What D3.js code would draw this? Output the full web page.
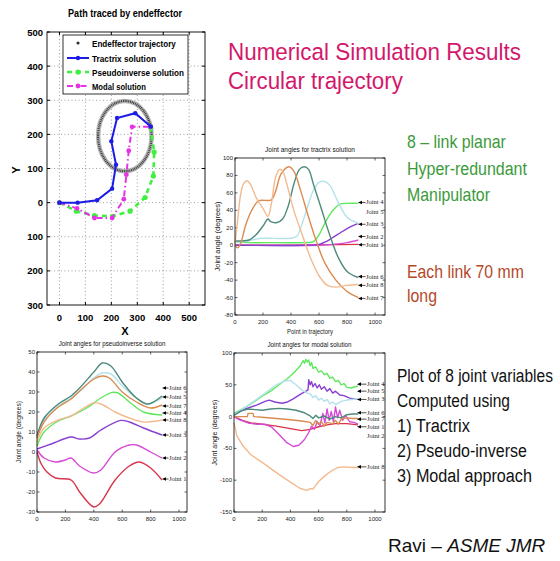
<!DOCTYPE html>
<html><head><meta charset="utf-8">
<script src="https://cdn.jsdelivr.net/npm/d3@7"></script>
<style>body{margin:0;background:#fff} svg{display:block}</style>
</head><body>
<svg width="560" height="561"></svg>
<script>
// ---------------- data: path traced by endeffector
const pathXTicks = [0, 100, 200, 300, 400, 500];
const pathYTicks = [500, 400, 300, 200, 100, 0, -100, -200, -300];
const circleCenter = [252, 195];
const circleRadius = 103;
const tractrixPath = [[0,0],[70,0],[145,7],[203,41],[218,111],[200,180],[222,248],[292,262],[352,223]];
const pseudoPath = [[0,0],[65,-25],[135,-38],[205,-40],[272,-25],[330,15],[362,78],[365,148],[352,220]];
const modalPath = [[0,0],[68,-17],[135,-45],[203,-45],[248,10],[258,82],[267,152],[280,222],[350,222]];
const legendLabels = ["Endeffector trajectory", "Tractrix solution", "Pseudoinverse solution", "Modal solution"];

// ---------------- data: joint angles
const jointNames = ["Joint 1","Joint 2","Joint 3","Joint 4","Joint 5","Joint 6","Joint 7","Joint 8"];
const jointColors = ["#d8344c","#d64ad6","#8a3fd0","#5ee85e","#b3e2ec","#4e8a7c","#da8b50","#f3ba90"];
const pointTicks = [0, 200, 400, 600, 800, 1000];

// tractrix
const trJ1 = [[0,0],[400,0],[880,1]];
const trJ2 = [[0,0],[600,0],[700,1],[800,3],[880,6]];
const trJ3 = [[0,0],[500,0],[600,1],[650,4],[700,9],[750,14],[800,19],[850,23],[880,25]];
const trJ4 = [[0,4],[100,3],[300,3],[500,3],[560,4],[600,12],[650,28],[700,40],[750,47],[800,48],[880,48]];
const trJ5 = [[0,3],[100,5],[150,7],[200,8],[400,8],[440,10],[480,25],[520,45],[560,63],[600,72],[640,73],[680,68],[720,55],[760,42],[800,32],[880,25]];
const trJ6 = [[0,5],[50,5],[100,6],[150,12],[200,22],[235,30],[255,27],[300,26],[340,30],[380,45],[420,70],[460,87],[495,90],[525,87],[560,70],[620,40],[680,10],[740,-15],[800,-30],[880,-37]];
const trJ7 = [[0,0],[20,-3],[40,2],[80,25],[130,43],[170,51],[260,52],[290,62],[330,82],[385,90],[420,85],[470,62],[520,35],[580,5],[640,-20],[720,-40],[800,-53],[880,-60]];
const trJ8 = [[0,2],[20,30],[40,58],[60,70],[85,74],[110,70],[150,55],[200,42],[235,33],[260,48],[290,78],[318,87],[340,85],[370,70],[420,40],[480,12],[540,-15],[600,-35],[660,-46],[720,-48],[800,-46],[880,-45]];
const trLabelY = [0.5, 10, 24, 49, 38, -36, -61, -46];
const trArrow = [1, 1, 1, 1, 0, 1, 1, 1];

// pseudoinverse
const psJ1 = [[0,0],[30,-6],[70,-10],[130,-13],[240,-14],[300,-20],[400,-27.5],[440,-26],[550,-14],[650,-7],[720,-5],[800,-8],[880,-14]];
const psJ2 = [[0,1],[50,-3],[130,-5],[200,-4],[240,-3],[300,-7],[400,-10.5],[450,-9],[550,0],[650,3.5],[700,3.5],[800,0],[880,-3]];
const psJ3 = [[0,1.5],[100,4],[240,7.5],[300,6.5],[370,7],[450,11],[590,15.8],[650,15],[750,12],[880,8.5]];
const psJ4 = [[0,3],[50,10],[150,15.5],[240,18],[350,22],[450,27],[530,29.8],[570,29.5],[650,25],[750,20],[880,18.5]];
const psJ5 = [[0,7],[50,16],[150,23],[240,27],[320,31.5],[400,37],[460,39.5],[520,39],[600,33],[700,27],[780,24],[880,27]];
const psJ6 = [[0,8],[50,17],[150,24],[240,28],[300,32],[400,40],[460,44.5],[520,43],[600,35],[700,27],[780,24],[880,28]];
const psJ7 = [[0,7],[50,15],[150,22.5],[240,26.5],[300,30.5],[400,36.5],[460,38],[510,37],[600,30],[700,25],[800,22],[880,23.5]];
const psJ8 = [[0,5],[50,12],[150,16],[240,18],[330,22],[400,24.5],[450,24],[550,20],[650,17],[750,15],[880,16]];
const psLabelY = [-13.5, -3, 8.5, 19.5, 27.5, 32, 23, 16];
const psArrow = [1, 1, 1, 1, 1, 1, 1, 1];

// modal
const moJ1 = [[0,0],[60,-6],[120,-10],[200,-12],[300,-15],[400,-19],[480,-22],[540,-20],[600,-16],[660,-13],[720,-11],[800,-11],[880,-13]];
const moJ2 = [[0,0],[40,-5],[100,-10],[160,-12],[220,-12],[270,-17],[320,-28],[370,-40],[420,-47],[460,-45],[500,-36],[530,-25],[550,-15],[570,-20],[590,-8],[610,-14],[630,5],[645,-10],[660,12],[675,-6],[690,8],[705,-8],[720,15],[735,-2],[750,10],[770,-6],[790,2],[820,-8],[850,-9],[880,-12]];
const moJ3 = [[0,3],[80,12],[160,18],[220,24],[250,26],[290,23],[340,21],[380,23],[420,28],[470,35],[510,40],[525,42],[530,58],[540,50],[550,55],[560,47],[575,52],[590,45],[605,50],[620,43],[640,47],[660,40],[680,44],[700,37],[720,40],[750,34],[780,33],[820,29],[880,27]];
const moJ4 = [[0,5],[60,12],[120,20],[200,32],[260,40],[320,50],[380,60],[430,70],[470,80],[490,88],[500,84],[510,90],[520,86],[530,89],[540,80],[550,85],[560,76],[580,78],[600,70],[620,72],[640,66],[660,68],[680,60],[700,62],[720,55],[740,57],[760,50],[780,52],[800,46],[830,45],[860,47],[880,48]];
const moJ5 = [[0,3],[80,15],[160,27],[240,40],[300,50],[360,56],[400,57],[440,50],[480,42],[520,37],[540,36],[560,30],[580,33],[600,26],[620,29],[640,24],[660,27],[680,20],[700,23],[720,19],[760,24],[800,26],[880,28]];
const moJ6 = [[0,2],[50,9],[100,12],[150,11],[200,10],[260,12],[320,13],[380,12],[440,10],[500,6],[540,1],[560,-3],[580,2],[600,-2],[640,1],[680,-4],[720,0],[760,-2],[800,3],[840,4],[880,4]];
const moJ7 = [[0,0],[95,0],[100,5],[135,5],[140,0],[200,-1],[300,-3],[400,-5],[480,-7],[540,-9],[560,-14],[580,-6],[600,-12],[620,-8],[640,-15],[660,-9],[700,-11],[720,-6],[740,-12],[760,-4],[800,-2],[840,-3],[880,-3]];
const moJ8 = [[0,-10],[20,-30],[60,-45],[120,-60],[200,-72],[300,-88],[400,-103],[470,-113],[520,-116],[540,-113],[560,-114],[600,-102],[650,-92],[700,-84],[740,-80],[780,-79],[840,-80],[880,-80]];
const moLabelY = [-16, -30, 27, 51, 40, 6, -4, -79];
const moArrow = [1, 0, 1, 1, 1, 1, 1, 1];

// ---------------- drawing
const svg = d3.select("svg");
const sans = "'Liberation Sans', Arial, sans-serif";
const serif = "'Liberation Serif', 'Times New Roman', serif";

// text helper: a wanted width squeezes the glyphs with a horizontal scale
function txt(g, s, x, y, size, opts = {}) {
  const t = g.append("text").attr("x", 0).attr("y", 0)
    .attr("font-family", opts.family || sans).attr("font-size", size)
    .attr("fill", opts.fill || "#000").text(s);
  if (opts.anchor) t.attr("text-anchor", opts.anchor);
  if (opts.weight) t.attr("font-weight", opts.weight);
  if (opts.style) t.attr("font-style", opts.style);
  let sx = 1;
  if (opts.width) sx = opts.width / t.node().getComputedTextLength();
  t.attr("transform", `translate(${x},${y})` + (opts.rotate ? " rotate(-90)" : "") + (sx !== 1 ? ` scale(${sx},1)` : ""));
  return t;
}

// ===== panel 1
(function () {
  const g = svg.append("g");
  const x = d3.scaleLinear().domain([-48, 561]).range([47, 205]);
  const y = d3.scaleLinear().domain([-300, 500]).range([305, 32]);

  // grid
  g.selectAll(".gx").data(pathXTicks).enter().append("line")
    .attr("x1", d => x(d)).attr("x2", d => x(d)).attr("y1", y(500)).attr("y2", y(-300))
    .attr("stroke", "#777").attr("stroke-width", 0.7).attr("stroke-dasharray", "1,2.5");
  g.selectAll(".gy").data(pathYTicks.slice(1, -1)).enter().append("line")
    .attr("y1", d => y(d)).attr("y2", d => y(d)).attr("x1", 47).attr("x2", 205)
    .attr("stroke", "#777").attr("stroke-width", 0.7).attr("stroke-dasharray", "1,2.5");

  // ticks inside
  pathXTicks.forEach(d => {
    g.append("line").attr("x1", x(d)).attr("x2", x(d)).attr("y1", 305).attr("y2", 302).attr("stroke", "#000");
    g.append("line").attr("x1", x(d)).attr("x2", x(d)).attr("y1", 32).attr("y2", 35).attr("stroke", "#000");
    txt(g, d, x(d), 321, 9.5, { anchor: "middle", weight: "bold" });
  });
  pathYTicks.forEach(d => {
    g.append("line").attr("x1", 47).attr("x2", 50).attr("y1", y(d)).attr("y2", y(d)).attr("stroke", "#000");
    g.append("line").attr("x1", 205).attr("x2", 202).attr("y1", y(d)).attr("y2", y(d)).attr("stroke", "#000");
    txt(g, Math.abs(d), 43, y(d) + 3.5, 9.5, { anchor: "end", weight: "bold" });
  });
  g.append("rect").attr("x", 47).attr("y", 32).attr("width", 158).attr("height", 273)
    .attr("fill", "none").attr("stroke", "#000").attr("stroke-width", 0.9);

  txt(g, "Path traced by endeffector", 125, 17, 10, { anchor: "middle", weight: "bold", width: 114 });
  txt(g, "X", 125, 335, 11, { anchor: "middle", weight: "bold" });
  txt(g, "Y", 20, 170, 11, { anchor: "middle", weight: "bold", rotate: true });

  // endeffector trajectory circle
  const cx = x(circleCenter[0]), cy = y(circleCenter[1]);
  const rx = x(circleCenter[0] + circleRadius) - cx, ry = cy - y(circleCenter[1] + circleRadius);
  g.append("ellipse").attr("cx", cx).attr("cy", cy).attr("rx", rx).attr("ry", ry)
    .attr("fill", "none").attr("stroke", "#b5b5b5").attr("stroke-width", 4.5);
  g.append("ellipse").attr("cx", cx).attr("cy", cy).attr("rx", rx).attr("ry", ry)
    .attr("fill", "none").attr("stroke", "#333").attr("stroke-width", 2.2).attr("stroke-dasharray", "0.9,0.9");

  const line = d3.line().x(d => x(d[0])).y(d => y(d[1]));
  const series = [
    { pts: pseudoPath, color: "#3ff03f", w: 2.6, dash: "5,4", r: 2.6 },
    { pts: modalPath, color: "#e433e4", w: 2, dash: "6,3,1.5,3", r: 2.4 },
    { pts: tractrixPath, color: "#1c1ce6", w: 2, dash: null, r: 2.2 }
  ];
  series.forEach(s => {
    const p = g.append("path").attr("d", line(s.pts)).attr("fill", "none")
      .attr("stroke", s.color).attr("stroke-width", s.w);
    if (s.dash) p.attr("stroke-dasharray", s.dash);
    g.selectAll(null).data(s.pts).enter().append("circle")
      .attr("cx", d => x(d[0])).attr("cy", d => y(d[1])).attr("r", s.r).attr("fill", s.color);
  });

  // legend
  const lg = g.append("g");
  lg.append("rect").attr("x", 63).attr("y", 35).attr("width", 125).attr("height", 59)
    .attr("fill", "#fff").attr("stroke", "#000").attr("stroke-width", 0.8);
  const ly = [43, 58, 72, 86];
  const legStyle = [null, series[2], series[0], series[1]];
  const legWidth = [84, 64, 92, 54];
  legendLabels.forEach((lab, i) => {
    const s = legStyle[i];
    if (!s) {
      lg.append("circle").attr("cx", 78).attr("cy", ly[i]).attr("r", 1.6).attr("fill", "#333");
    } else {
      const p = lg.append("line").attr("x1", 67).attr("x2", 89).attr("y1", ly[i]).attr("y2", ly[i])
        .attr("stroke", s.color).attr("stroke-width", s.w);
      if (s.dash) p.attr("stroke-dasharray", s.dash);
      lg.append("circle").attr("cx", 78).attr("cy", ly[i]).attr("r", s.r).attr("fill", s.color);
    }
    txt(lg, lab, 92, ly[i] + 3.5, 9.5, { weight: "bold", width: legWidth[i] });
  });
})();

// ===== joint angle panels
function jointPanel(p) {
  const g = svg.append("g");
  const x = d3.scaleLinear().domain(p.xDomain).range([p.left, p.right]);
  const y = d3.scaleLinear().domain(p.yDomain).range([p.bottom, p.top]);

  pointTicks.forEach(d => {
    g.append("line").attr("x1", x(d)).attr("x2", x(d)).attr("y1", p.bottom).attr("y2", p.bottom - 2.5).attr("stroke", "#000").attr("stroke-width", 0.6);
    g.append("line").attr("x1", x(d)).attr("x2", x(d)).attr("y1", p.top).attr("y2", p.top + 2.5).attr("stroke", "#000").attr("stroke-width", 0.6);
    txt(g, d, x(d), p.bottom + 9, 6, { anchor: "middle", fill: "#222" });
  });
  p.yTicks.forEach(d => {
    g.append("line").attr("x1", p.left).attr("x2", p.left + 2.5).attr("y1", y(d)).attr("y2", y(d)).attr("stroke", "#000").attr("stroke-width", 0.6);
    g.append("line").attr("x1", p.right).attr("x2", p.right - 2.5).attr("y1", y(d)).attr("y2", y(d)).attr("stroke", "#000").attr("stroke-width", 0.6);
    txt(g, d, p.left - 2, y(d) + 2, 6, { anchor: "end", fill: "#222" });
  });

  const line = d3.line().x(d => x(d[0])).y(d => y(d[1])).curve(p.curve);
  p.curves.forEach((c, i) => {
    g.append("path").attr("d", line(c)).attr("fill", "none")
      .attr("stroke", jointColors[i]).attr("stroke-width", 1.4).attr("stroke-linejoin", "round");
  });

  g.append("rect").attr("x", p.left).attr("y", p.top).attr("width", p.right - p.left).attr("height", p.bottom - p.top)
    .attr("fill", "none").attr("stroke", "#000").attr("stroke-width", 0.8);

  // annotations
  jointNames.forEach((name, i) => {
    const ly = y(p.labelY[i]);
    if (p.arrow[i]) {
      g.append("line").attr("x1", p.arrowX0 + 3).attr("x2", p.textX - 0.5).attr("y1", ly).attr("y2", ly)
        .attr("stroke", "#000").attr("stroke-width", 0.7);
      g.append("path").attr("d", `M${p.arrowX0},${ly}L${p.arrowX0 + 4},${ly - 1.8}L${p.arrowX0 + 4},${ly + 1.8}Z`).attr("fill", "#000");
    }
    txt(g, name, p.textX, ly + 2, 6.5, { family: serif, fill: "#222" });
  });

  txt(g, p.title, (p.left + p.right) / 2, p.top - 6, 6.5, { anchor: "middle", width: p.titleWidth, fill: "#111" });
  txt(g, "Joint angle (degrees)", p.yLabelX, (p.top + p.bottom) / 2, 6.5, { anchor: "middle", rotate: true, width: p.yLabelW, fill: "#222" });
  if (p.xLabel) txt(g, "Point in trajectory", (p.left + p.right) / 2, p.bottom + 19, 6.5, { anchor: "middle", width: 46, fill: "#222" });
}

jointPanel({
  left: 235, right: 385, top: 158, bottom: 315, xDomain: [0, 1071], yDomain: [-80, 100],
  yTicks: [100, 80, 60, 40, 20, 0, -20, -40, -60, -80],
  curves: [trJ1, trJ2, trJ3, trJ4, trJ5, trJ6, trJ7, trJ8], labelY: trLabelY, arrow: trArrow,
  arrowX0: 358, textX: 366, title: "Joint angles for tractrix solution", titleWidth: 90,
  yLabelX: 220, yLabelW: 70, xLabel: true, curve: d3.curveCatmullRom
});
jointPanel({
  left: 37, right: 187, top: 352, bottom: 512, xDomain: [0, 1056], yDomain: [-30, 50],
  yTicks: [50, 40, 30, 20, 10, 0, -10, -20, -30],
  curves: [psJ1, psJ2, psJ3, psJ4, psJ5, psJ6, psJ7, psJ8], labelY: psLabelY, arrow: psArrow,
  arrowX0: 162, textX: 169, title: "Joint angles for pseudoinverse solution", titleWidth: 107,
  yLabelX: 21, yLabelW: 62, xLabel: false, curve: d3.curveCatmullRom
});
jointPanel({
  left: 234, right: 385, top: 353, bottom: 512, xDomain: [0, 1071], yDomain: [-150, 100],
  yTicks: [100, 50, 0, -50, -100, -150],
  curves: [moJ1, moJ2, moJ3, moJ4, moJ5, moJ6, moJ7, moJ8], labelY: moLabelY, arrow: moArrow,
  arrowX0: 357, textX: 367, title: "Joint angles for modal solution", titleWidth: 84,
  yLabelX: 217, yLabelW: 66, xLabel: false, curve: d3.curveLinear
});

// ===== slide text
const tg = svg.append("g");
txt(tg, "Numerical Simulation Results", 228, 60, 23.5, { fill: "#d3186c", width: 293 });
txt(tg, "Circular trajectory", 228, 89, 23.5, { fill: "#d3186c", width: 175 });
txt(tg, "8 \u2013 link planar", 407, 148, 18, { fill: "#3b9a3b", width: 99 });
txt(tg, "Hyper-redundant", 407, 175, 18, { fill: "#3b9a3b", width: 120 });
txt(tg, "Manipulator", 407, 201, 18, { fill: "#3b9a3b", width: 83 });
txt(tg, "Each link 70 mm", 407, 278, 18, { fill: "#b4492b", width: 117 });
txt(tg, "long", 407, 302, 18, { fill: "#b4492b", width: 30 });
txt(tg, "Plot of 8 joint variables", 397, 382, 19, { fill: "#111", width: 156 });
txt(tg, "Computed using", 397, 407, 19, { fill: "#111", width: 113 });
txt(tg, "1) Tractrix", 397, 432, 19, { fill: "#111", width: 73 });
txt(tg, "2) Pseudo-inverse", 397, 457, 19, { fill: "#111", width: 130 });
txt(tg, "3) Modal approach", 397, 482, 19, { fill: "#111", width: 135 });
const rv = tg.append("text").attr("x", 388).attr("y", 552).attr("font-family", sans)
  .attr("font-size", 19).attr("fill", "#111");
rv.append("tspan").text("Ravi \u2013 ");
rv.append("tspan").attr("font-style", "italic").text("ASME JMR");
</script>
</body></html>
